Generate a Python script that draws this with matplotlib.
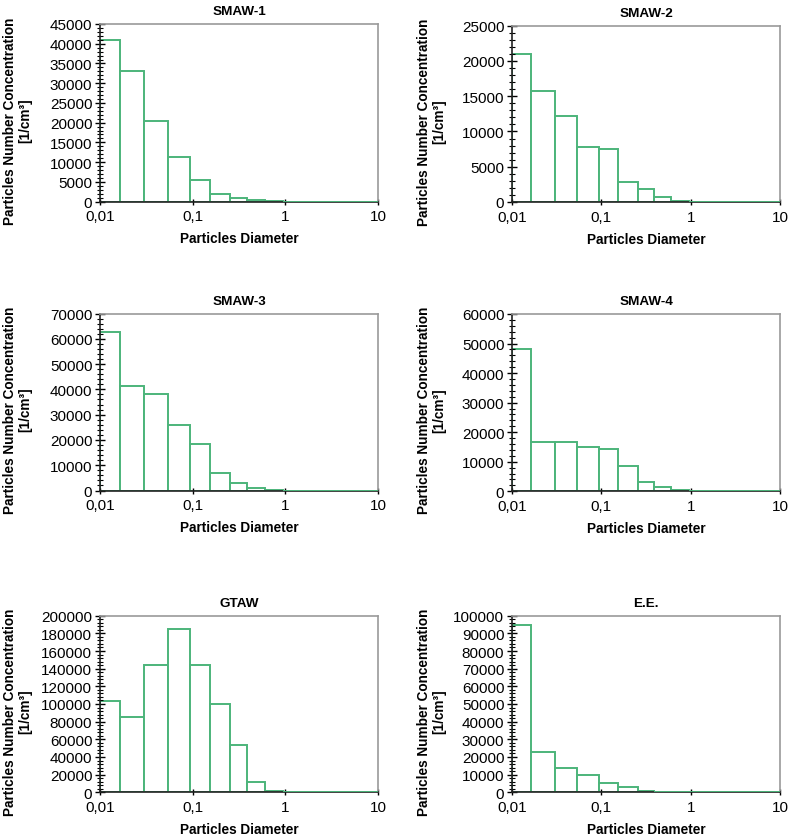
import matplotlib
matplotlib.use('Agg')
import matplotlib.pyplot as plt
from matplotlib.ticker import MultipleLocator, AutoMinorLocator, FixedLocator, NullLocator

plt.rcParams['font.family'] = ['Liberation Sans', 'DejaVu Sans']

# size bin edges (particle diameter), shared by all samples
bin_edges = [0.01, 0.0163, 0.030, 0.054, 0.094, 0.155, 0.255, 0.385, 0.60, 0.95, 10]

# number concentration per bin [1/cm3]
smaw1 = [41000, 33000, 20400, 11200, 5400, 1900, 900, 300, 50, 0]
smaw2 = [21000, 15700, 12200, 7800, 7500, 2800, 1900, 700, 150, 0]
smaw3 = [62500, 41500, 38200, 26000, 18500, 7000, 3000, 1000, 100, 0]
smaw4 = [48300, 16700, 16700, 15000, 14200, 8600, 3000, 1300, 300, 0]
gtaw = [103500, 85500, 144500, 185500, 144500, 99500, 54000, 11500, 1500, 0]
ee = [95000, 22800, 13500, 10000, 5500, 2800, 600, 0, 0, 0]

titles = ['SMAW-1', 'SMAW-2', 'SMAW-3', 'SMAW-4', 'GTAW', 'E.E.']
series = [smaw1, smaw2, smaw3, smaw4, gtaw, ee]
y_max = [45000, 25000, 70000, 60000, 200000, 100000]
y_step = [5000, 5000, 10000, 10000, 20000, 10000]

x_ticks = [0.01, 0.1, 1, 10]
x_ticklabels = ['0,01', '0,1', '1', '10']

green = '#4CB47A'

W, H = 789, 837
fig = plt.figure(figsize=(W / 100, H / 100), dpi=100)

# axes boxes in pixels: left, top, right, bottom
boxes = [
    (100, 25, 378, 202.5),
    (512, 26.7, 780, 203),
    (100, 314.5, 378, 491.5),
    (512, 315, 780, 492.3),
    (100, 616.7, 378, 793.3),
    (512, 616.7, 780, 793.3),
]

widths = [bin_edges[i + 1] - bin_edges[i] for i in range(len(bin_edges) - 1)]

for k in range(6):
    l, t, r, b = boxes[k]
    ax = fig.add_axes([l / W, 1 - b / H, (r - l) / W, (b - t) / H])
    vals = series[k]
    for i, v in enumerate(vals):
        ax.bar(bin_edges[i], v, width=widths[i], align='edge', color='white',
               edgecolor=green, linewidth=1.4, zorder=3 if v == 0 else 1)

    ax.set_xscale('log')
    ax.set_xlim(0.01, 10)
    ax.set_ylim(0, y_max[k])
    ax.xaxis.set_major_locator(FixedLocator(x_ticks))
    ax.set_xticklabels(x_ticklabels)
    ax.xaxis.set_minor_locator(NullLocator())
    ax.yaxis.set_major_locator(MultipleLocator(y_step[k]))
    ax.yaxis.set_minor_locator(AutoMinorLocator(5))

    ax.tick_params(axis='y', which='major', direction='inout', length=7, width=1,
                   labelsize=11, pad=2)
    ax.tick_params(axis='y', which='minor', direction='inout', length=4, width=0.8)
    ax.tick_params(axis='x', which='major', direction='inout', length=5, width=1,
                   labelsize=11, pad=3)

    for s in ['top', 'right']:
        ax.spines[s].set_color('#9a9a9a')
        ax.spines[s].set_linewidth(1.2)
    for s in ['left', 'bottom']:
        ax.spines[s].set_color('#222222')
        ax.spines[s].set_linewidth(1.2)

    ax.set_title(titles[k], fontsize=9.7, fontweight='bold', pad=7)
    ax.set_xlabel('Particles Diameter', fontsize=9.8, fontweight='bold', labelpad=6)
    ax.set_ylabel('Particles Number Concentration\n[1/cm³]', fontsize=9.8,
                  fontweight='bold', linespacing=1.1)
    ax.yaxis.set_label_coords(-0.245, 0.46)

fig.savefig('out.png', dpi=100)
